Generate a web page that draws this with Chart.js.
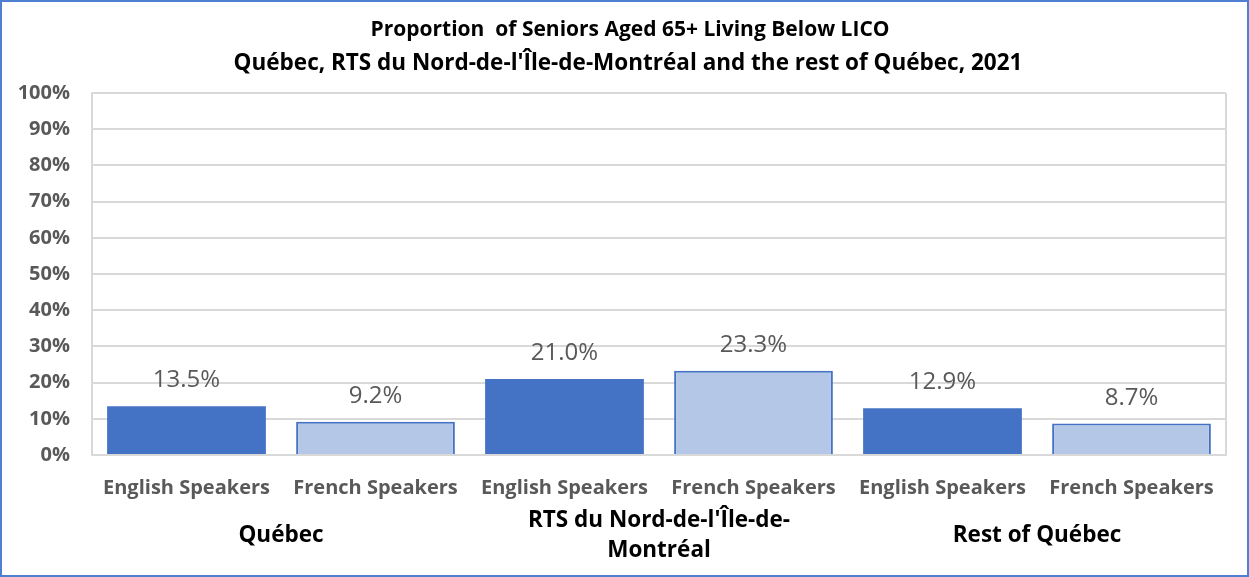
<!DOCTYPE html>
<html>
<head>
<meta charset="utf-8">
<script src="https://cdn.jsdelivr.net/npm/chart.js@4/dist/chart.umd.min.js"></script>
<style>
  html, body { margin: 0; padding: 0; background: #fff; }
  #wrap { width: 1249px; height: 577px; position: relative; }
</style>
</head>
<body>
<div id="wrap"><canvas id="chart" width="1249" height="577"></canvas></div>
<script>
// data
var titleLines = ['Proportion  of Seniors Aged 65+ Living Below LICO',
                  "Québec, RTS du Nord-de-l'Île-de-Montréal and the rest of Québec, 2021"];
var categories = ['English Speakers', 'French Speakers', 'English Speakers', 'French Speakers', 'English Speakers', 'French Speakers'];
var groups = [['Québec'], ["RTS du Nord-de-l'Île-de-", 'Montréal'], ['Rest of Québec']];
var values = [13.5, 9.2, 21.0, 23.3, 12.9, 8.7];
var valueLabels = ['13.5%', '9.2%', '21.0%', '23.3%', '12.9%', '8.7%'];

var DARK = '#4472C4', LIGHT = '#B4C7E7', GRID = '#D9D9D9', GREY = '#595959';
var FONT = '"Open Sans"';

// frame, title, plot border, value labels, group labels
var extras = {
    id: 'extras',
    beforeDraw: function (chart) {
        var c = chart.ctx;
        c.save();
        c.fillStyle = '#fff';
        c.fillRect(0, 0, chart.width, chart.height);
        c.strokeStyle = '#4F7FD0';
        c.lineWidth = 2;
        c.strokeRect(1, 1, chart.width - 2, chart.height - 2);
        c.restore();
    },
    beforeDatasetsDraw: function (chart) {
        var a = chart.chartArea, c = chart.ctx;
        c.save();
        c.strokeStyle = GRID;
        c.lineWidth = 2;
        c.beginPath();
        c.moveTo(a.right, a.top);
        c.lineTo(a.right, a.bottom);
        c.stroke();
        c.restore();
    },
    afterDatasetsDraw: function (chart) {
        var c = chart.ctx;
        var meta = chart.getDatasetMeta(0);
        c.save();
        c.fillStyle = GREY;
        c.font = '24px ' + FONT;
        c.textAlign = 'center';
        c.textBaseline = 'alphabetic';
        meta.data.forEach(function (bar, i) {
            c.fillText(valueLabels[i], bar.x, bar.y - 19);
        });
        c.restore();
    },
    afterDraw: function (chart) {
        var c = chart.ctx;
        var xs = chart.scales.x;
        c.save();
        c.fillStyle = '#000';
        c.textAlign = 'center';
        c.textBaseline = 'middle';
        c.font = 'bold 21px ' + FONT;
        c.fillText(titleLines[0], 630, 30);
        c.font = 'bold 22.5px ' + FONT;
        c.fillText(titleLines[1], 628, 64);

        c.font = 'bold 22.5px ' + FONT;
        groups.forEach(function (g, i) {
            var x = (xs.getPixelForValue(i * 2) + xs.getPixelForValue(i * 2 + 1)) / 2;
            var lh = 30;
            var y0 = 536 - (g.length - 1) * lh / 2;
            g.forEach(function (line, j) {
                c.fillText(line, x, y0 + j * lh);
            });
        });
        c.restore();
    }
};

new Chart(document.getElementById('chart'), {
    type: 'bar',
    data: {
        labels: categories,
        datasets: [{
            data: values,
            backgroundColor: values.map(function (v, i) { return i % 2 ? LIGHT : DARK; }),
            borderColor: DARK,
            borderWidth: values.map(function (v, i) { return i % 2 ? 2 : 0; }),
            barPercentage: 0.84,
            categoryPercentage: 1.0
        }]
    },
    options: {
        responsive: false,
        animation: false,
        layout: { padding: { left: 0, right: 23, top: 93, bottom: 0 } },
        plugins: {
            legend: { display: false },
            title: { display: false },
            tooltip: { enabled: false }
        },
        scales: {
            x: {
                grid: { display: false },
                border: { display: true, color: GRID, width: 2 },
                ticks: {
                    color: GREY,
                    font: { family: FONT, size: 20, weight: 'bold' },
                    padding: 13,
                    maxRotation: 0,
                    autoSkip: false
                },
                afterFit: function (s) { s.height = 122; }
            },
            y: {
                min: 0,
                max: 100,
                grid: { color: GRID, lineWidth: 2, drawTicks: false },
                border: { display: true, color: GRID, width: 2 },
                ticks: {
                    stepSize: 10,
                    color: GREY,
                    padding: 22,
                    font: { family: FONT, size: 20, weight: 'bold' },
                    callback: function (v) { return v + '%'; }
                },
                afterFit: function (s) { s.width = 92; }
            }
        }
    },
    plugins: [extras]
});
</script>
</body>
</html>
